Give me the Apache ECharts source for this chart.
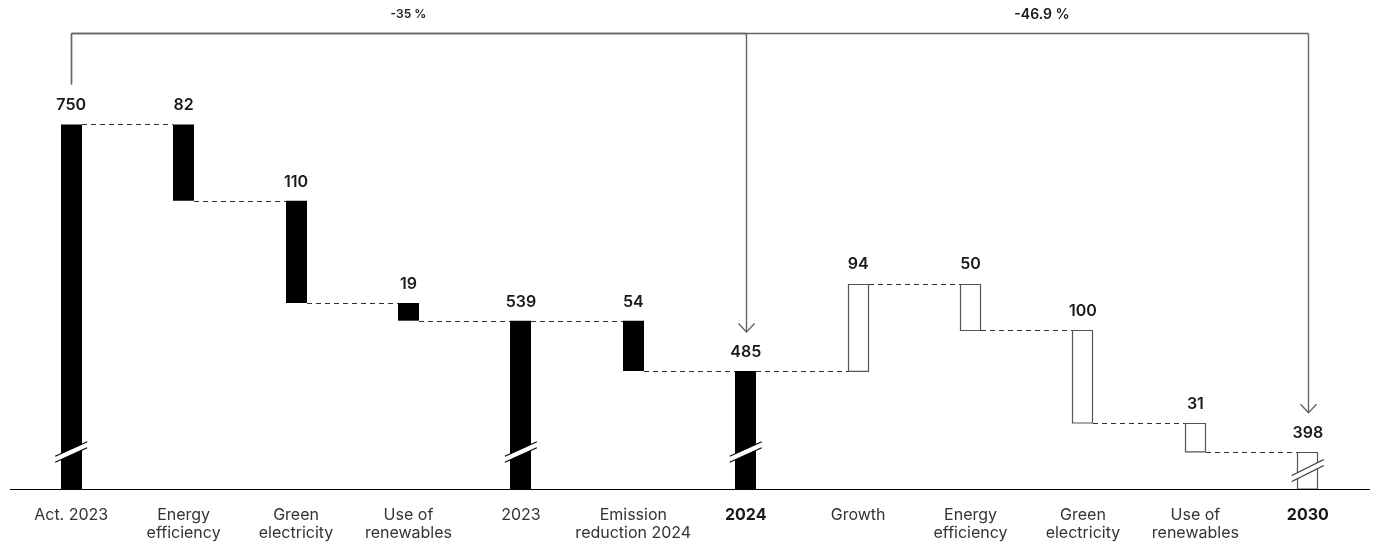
<!DOCTYPE html>
<html>
<head>
<meta charset="utf-8">
<script src="https://cdn.jsdelivr.net/npm/echarts@6/dist/echarts.min.js"></script>
<style>
  html, body { margin: 0; padding: 0; background: #fff; }
  #chart { width: 1377px; height: 545px; }
</style>
</head>
<body>
<div id="chart"></div>
<script>
// Emissions bridge: actual 2023 -> 2023 -> 2024 -> 2030 target
const categories = [
  'Act. 2023', 'Energy\nefficiency', 'Green\nelectricity', 'Use of\nrenewables',
  '2023', 'Emission\nreduction 2024', '2024', 'Growth',
  'Energy\nefficiency', 'Green\nelectricity', 'Use of\nrenewables', '2030'
];
const values = [750, 82, 110, 19, 539, 54, 485, 94, 50, 100, 31, 398];
// 'total' bars stand on the axis, 'down'/'up' float from the running level
const steps = ['total', 'down', 'down', 'down', 'total', 'down', 'total', 'up', 'down', 'down', 'down', 'total'];
// outlined bars are the planned path to 2030
const planned = [false, false, false, false, false, false, false, true, true, true, true, true];
const boldCategories = ['2024', '2030'];
const changeLabels = ['-35 %', '-46.9 %'];
const changeTargets = [6, 11];

const axisMin = 358;
const axisMax = 800;

// Running levels for the waterfall
const barRows = [];
let level = 0;
values.forEach((v, i) => {
  let low, high;
  if (steps[i] === 'total') { low = axisMin; high = v; level = v; }
  else if (steps[i] === 'down') { low = level - v; high = level; level = low; }
  else { low = level; high = level + v; level = high; }
  barRows.push([i, low, high, level]);
});

const FONT = 'Inter, "Noto Sans", sans-serif';
const BAR_W = 21;

function renderBar(params, api) {
  const i = api.value(0);
  const top = api.coord([i, api.value(2)]);
  const bottom = api.coord([i, api.value(1)]);
  const lvl = api.value(3);
  const cx = top[0];
  const x = Math.round(cx - BAR_W / 2);
  const hollow = planned[i];
  const children = [];

  children.push({
    type: 'rect',
    shape: { x: hollow ? x + 0.5 : x, y: hollow ? Math.round(top[1]) + 0.5 : top[1], width: BAR_W - (hollow ? 1 : 0), height: bottom[1] - top[1] - (hollow ? 0.5 : 0) },
    style: hollow ? { fill: '#fff', stroke: '#555', lineWidth: 1.2 } : { fill: '#000' }
  });

  // axis break across bars that stand on the truncated axis
  if (steps[i] === 'total') {
    const h = bottom[1] - top[1];
    const cy = bottom[1] - Math.min(37, h / 2);
    const dx = 16, dy = hollow ? 8 : 7.2, gap = 6;
    children.push({
      type: 'polygon',
      shape: { points: [[cx - dx, cy + dy - gap / 2], [cx + dx, cy - dy - gap / 2], [cx + dx, cy - dy + gap / 2], [cx - dx, cy + dy + gap / 2]] },
      style: { fill: '#fff' }
    });
    const col = hollow ? '#333' : '#000';
    [-gap / 2, gap / 2].forEach(off => {
      children.push({
        type: 'line',
        shape: { x1: cx - dx, y1: cy + dy + off, x2: cx + dx, y2: cy - dy + off },
        style: { stroke: col, lineWidth: 1.1 }
      });
    });
  }

  // value label
  children.push({
    type: 'text',
    x: cx, y: top[1] - 19,
    style: {
      text: String(values[i]), fill: '#1a1a1a', font: '600 16px ' + FONT,
      align: 'center', verticalAlign: 'middle'
    }
  });

  // dashed connector to the next bar
  if (i < values.length - 1) {
    const y = Math.round(api.coord([i, lvl])[1]) + 0.5;
    const nx = api.coord([i + 1, lvl])[0];
    children.push({
      type: 'line',
      shape: { x1: x + BAR_W, y1: y, x2: Math.round(nx - BAR_W / 2), y2: y },
      style: { stroke: '#333', lineWidth: 1, lineDash: [5, 4] }
    });
  }
  return { type: 'group', children };
}

// Bracket from the 2023 actual to each reference year with the % change
const labelAt = [0.5, 0.785];
const labelSize = [12, 14];
function renderBracket(params, api) {
  const k = params.dataIndex;
  const target = api.value(1);
  const start = api.coord([0, values[0]]);
  const end = api.coord([target, values[target]]);
  const gridTop = api.coord([0, axisMax])[1];
  const yLine = Math.round(gridTop - 45) + 0.5;
  const stroke = { stroke: '#666', lineWidth: 1.4 };
  const xs = Math.round(start[0]) + 0.5;
  const xe = Math.round(end[0]) + 0.5;
  const tip = end[1] - 39;
  const children = [
    { type: 'line', shape: { x1: xs, y1: yLine, x2: xe, y2: yLine }, style: stroke },
    { type: 'line', shape: { x1: xs, y1: yLine, x2: xs, y2: start[1] - 40 }, style: stroke },
    { type: 'line', shape: { x1: xe, y1: yLine, x2: xe, y2: tip }, style: stroke },
    { type: 'polyline', shape: { points: [[xe - 8, tip - 8.5], [xe, tip], [xe + 8, tip - 8.5]] }, style: Object.assign({ fill: 'none' }, stroke) },
    {
      type: 'text',
      x: start[0] + (end[0] - start[0]) * labelAt[k], y: yLine - 19,
      style: {
        text: changeLabels[k], fill: '#1a1a1a', font: '600 ' + labelSize[k] + 'px ' + FONT,
        align: 'center', verticalAlign: 'middle'
      }
    }
  ];
  // baseline, running a little past the outer bands
  if (k === 0) {
    const base = Math.round(api.coord([0, axisMin])[1]) + 0.5;
    const size = api.size([1, 0]);
    const band = size[0];
    const lastX = api.coord([categories.length - 1, axisMin])[0];
    children.push({
      type: 'line',
      shape: { x1: start[0] - band / 2 - 5, y1: base, x2: lastX + band / 2 + 6, y2: base },
      style: { stroke: '#000', lineWidth: 1 }
    });
  }
  return { type: 'group', children };
}

const chart = echarts.init(document.getElementById('chart'));
chart.setOption({
  animation: false,
  backgroundColor: '#fff',
  grid: { left: 15, right: 13, top: 78, bottom: 56 },
  xAxis: {
    type: 'category',
    data: categories,
    axisLine: { show: false },
    axisTick: { show: false },
    axisLabel: {
      interval: 0,
      margin: 17,
      color: '#333',
      fontFamily: FONT,
      fontSize: 16,
      lineHeight: 18,
      formatter: v => boldCategories.includes(v) ? '{b|' + v + '}' : v,
      rich: { b: { fontWeight: 'bold', fontSize: 16, fontFamily: FONT, color: '#1a1a1a', lineHeight: 18 } }
    }
  },
  yAxis: { type: 'value', min: axisMin, max: axisMax, show: false, splitLine: { show: false } },
  series: [
    { type: 'custom', clip: false, renderItem: renderBar, data: barRows, z: 2 },
    { type: 'custom', clip: false, renderItem: renderBracket, data: changeTargets.map((t, k) => [0, t, k]), z: 3 }
  ]
});
</script>
</body>
</html>
